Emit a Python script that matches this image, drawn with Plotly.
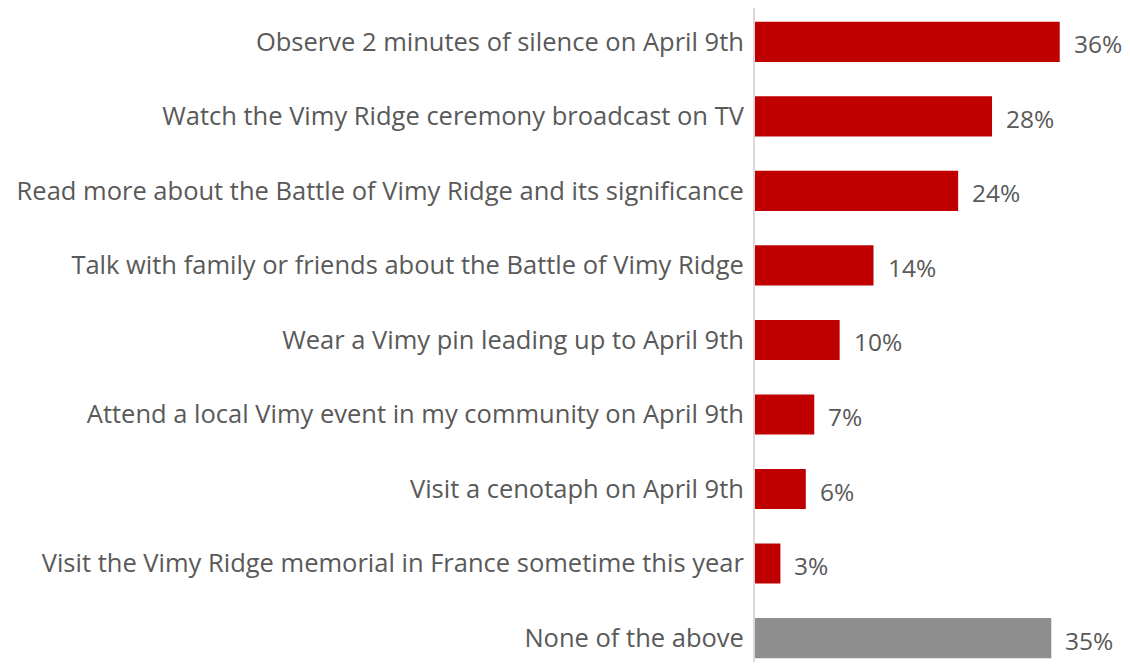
import plotly.graph_objects as go

categories = [
    "Observe 2 minutes of silence on April 9th",
    "Watch the Vimy Ridge ceremony broadcast on TV",
    "Read more about the Battle of Vimy Ridge and its significance",
    "Talk with family or friends about the Battle of Vimy Ridge",
    "Wear a Vimy pin leading up to April 9th",
    "Attend a local Vimy event in my community on April 9th",
    "Visit a cenotaph on April 9th",
    "Visit the Vimy Ridge memorial in France sometime this year",
    "None of the above",
]
values = [36, 28, 24, 14, 10, 7, 6, 3, 35]
labels = ["36%", "28%", "24%", "14%", "10%", "7%", "6%", "3%", "35%"]
bar_colors = ["#C00000"] * 8 + ["#8E8E8F"]

FONT = "Open Sans"
TXT = "#595959"

fig = go.Figure()
fig.add_trace(go.Bar(
    x=values, y=categories, orientation="h",
    marker=dict(color=bar_colors, line=dict(width=0)),
    width=0.54, hoverinfo="skip",
))

for c, v, t in zip(categories, values, labels):
    fig.add_annotation(x=v, y=c, text=t, showarrow=False, xanchor="left",
                       xshift=12, yshift=-2,
                       font=dict(family=FONT, size=24.5, color=TXT))

fig.update_layout(
    width=1122, height=654,
    margin=dict(l=747, r=0, t=0, b=0),
    plot_bgcolor="white", paper_bgcolor="white",
    showlegend=False,
    xaxis=dict(range=[0, 44.3], showgrid=False, zeroline=False, showticklabels=False,
               showline=False, fixedrange=True),
    yaxis=dict(type="category", categoryorder="array", categoryarray=categories,
               range=[8.322, -0.456], showgrid=False, zeroline=False,
               showline=True, linecolor="#D9D9D9", linewidth=2,
               ticks="", ticklabelstandoff=4,
               tickfont=dict(family=FONT, size=25.5, color=TXT)),
)

fig.write_html("out.html")
